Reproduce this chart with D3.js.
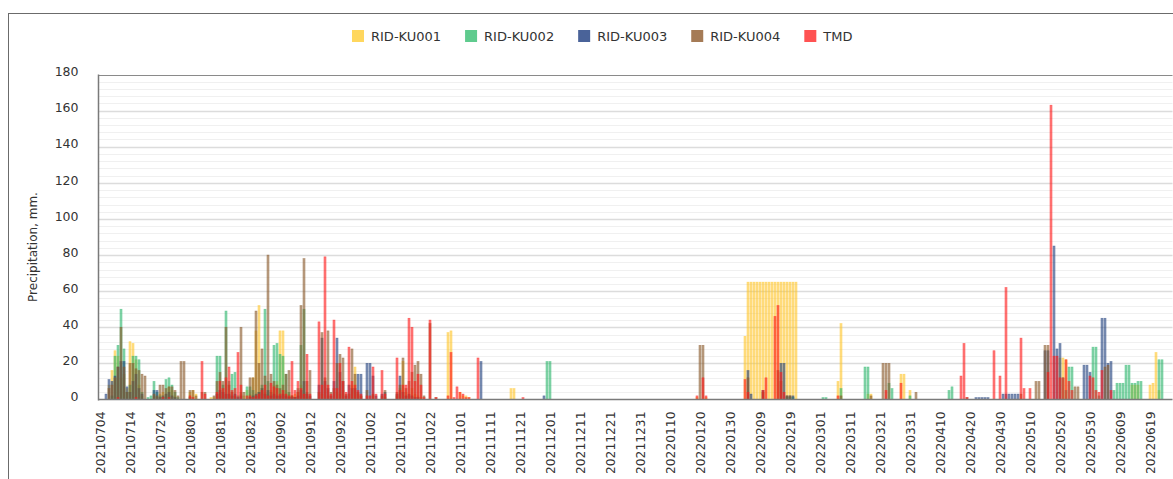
<!DOCTYPE html>
<html>
<head>
<meta charset="utf-8">
<script src="https://cdn.jsdelivr.net/npm/d3@7"></script>
<style>
  html, body { margin: 0; padding: 0; background: #fff; }
  svg { display: block; }
  text { font-family: "DejaVu Sans", Verdana, sans-serif; }
</style>
</head>
<body>
<div id="chart"></div>
<script>
// Daily precipitation (mm), 2021-07-04 .. 2022-06-26, one row per 10-day block
const startDate = "2021-07-04";
const endDate = "2022-06-26";

const seriesNames = ["RID-KU001", "RID-KU002", "RID-KU003", "RID-KU004", "TMD"];

const tickLabels = [
  "20210704","20210714","20210724","20210803","20210813","20210823","20210902",
  "20210912","20210922","20211002","20211012","20211022","20211101","20211111",
  "20211121","20211201","20211211","20211221","20211231","20220110","20220120",
  "20220130","20220209","20220219","20220301","20220311","20220321","20220331",
  "20220410","20220420","20220430","20220510","20220520","20220530","20220609",
  "20220619"
];

const ku001 = [
  0,0,0,8,16,27,24,12,14,6,
  32,31,22,8,2,0,0,0,2,1,
  3,4,3,7,5,2,0,0,0,0,
  4,5,3,0,0,0,0,1,1,2,
  3,2,0,2,0,0,0,3,2,5,
  3,12,38,52,6,4,3,5,8,10,
  38,38,5,3,2,3,4,8,3,1,
  0,0,0,0,3,0,2,0,0,4,
  3,5,0,0,8,18,3,2,0,0,
  0,2,0,0,0,1,0,0,0,2,
  6,21,4,2,6,3,2,1,0,0,
  0,0,0,0,0,0,37,38,0,0,
  4,2,2,1,0,0,0,0,0,0,
  0,0,0,0,0,0,0,6,6,0,
  0,0,0,0,0,0,0,0,0,0,
  0,0,0,0,0,0,0,0,0,0,
  0,0,0,0,0,0,0,0,0,0,
  0,0,0,0,0,0,0,0,0,0,
  0,0,0,0,0,0,0,0,0,0,
  0,0,0,0,0,0,0,0,0,1,
  0,0,1,0,0,0,0,0,0,0,
  0,0,0,0,0,35,65,65,65,65,
  65,65,65,65,65,65,65,65,65,65,
  65,65,65,0,0,0,0,0,0,0,
  0,0,0,0,0,0,10,42,0,0,
  0,0,0,0,0,0,3,3,0,0,
  0,0,0,0,0,0,0,14,14,0,
  5,0,0,0,0,0,0,0,0,0,
  0,0,0,0,0,0,0,0,0,0,
  0,0,0,0,0,0,0,0,0,0,
  0,0,0,0,0,0,0,0,0,0,
  0,0,0,0,0,0,0,0,0,0,
  23,23,22,0,0,0,0,0,0,0,
  0,0,0,0,0,0,0,0,0,0,
  0,0,0,0,8,8,8,0,0,0,
  8,9,26,5,0,0,0,0
];

const ku002 = [
  0,0,0,0,2,24,30,50,28,4,
  8,24,24,22,4,0,1,2,10,4,
  2,1,11,12,8,4,1,0,0,0,
  1,0,0,0,0,0,0,0,0,24,
  24,8,49,10,14,15,2,4,0,7,
  7,5,2,4,8,50,10,4,30,31,
  25,24,14,4,2,1,6,30,50,4,
  0,0,0,0,0,0,0,0,0,0,
  0,0,0,0,0,0,0,0,0,0,
  0,0,0,0,0,0,0,0,0,0,
  0,0,0,0,0,0,0,0,0,0,
  0,0,0,0,0,0,0,0,0,0,
  0,0,0,0,0,0,0,0,0,0,
  0,0,0,0,0,0,0,0,0,0,
  0,0,0,0,0,0,0,0,0,21,
  21,0,0,0,0,0,0,0,0,0,
  0,0,0,0,0,0,0,0,0,0,
  0,0,0,0,0,0,0,0,0,0,
  0,0,0,0,0,0,0,0,0,0,
  0,0,0,0,0,0,0,0,0,0,
  0,0,0,0,0,0,0,0,0,0,
  0,0,0,0,0,0,0,0,0,0,
  0,0,0,0,0,0,0,0,0,1,
  1,1,0,0,0,0,0,0,0,0,
  0,1,1,0,0,0,0,6,0,0,
  0,0,0,0,0,18,18,0,0,0,
  0,0,0,9,6,0,0,0,0,0,
  2,0,0,0,0,0,0,0,0,0,
  0,0,0,5,7,0,0,0,0,0,
  0,0,0,0,0,0,0,0,0,0,
  0,0,0,0,0,0,0,0,0,0,
  0,0,0,0,0,0,0,0,0,0,
  0,12,5,18,18,0,0,0,0,0,
  0,29,29,2,0,0,0,0,5,9,
  9,9,19,19,9,9,10,10,0,0,
  0,0,0,22,22,0,0,0
];

const ku003 = [
  0,0,3,11,10,13,18,21,21,7,
  4,10,14,6,3,0,0,0,5,5,
  1,2,3,4,2,1,0,0,0,0,
  0,0,0,0,0,0,0,0,0,3,
  5,4,3,3,2,3,1,2,0,0,
  1,2,3,4,6,3,5,2,3,2,
  2,3,2,1,1,1,2,5,10,3,
  2,0,0,8,34,10,6,2,10,34,
  15,10,2,8,6,6,14,14,0,20,
  20,13,2,0,3,4,0,0,0,3,
  13,4,2,3,2,1,1,0,0,0,
  0,0,0,0,0,0,0,0,0,0,
  0,0,0,0,0,0,0,21,0,0,
  0,0,0,0,0,0,0,0,0,0,
  0,0,0,0,0,0,0,0,2,0,
  0,0,0,0,0,0,0,0,0,0,
  0,0,0,0,0,0,0,0,0,0,
  0,0,0,0,0,0,0,0,0,0,
  0,0,0,0,0,0,0,0,0,0,
  0,0,0,0,0,0,0,0,0,0,
  0,0,0,0,0,0,0,0,0,0,
  0,0,0,0,0,0,16,3,0,0,
  0,5,0,0,0,0,0,20,20,2,
  2,2,0,0,0,0,0,0,0,0,
  0,0,0,0,0,0,0,0,0,0,
  0,0,0,0,0,0,0,0,0,0,
  0,0,0,0,0,0,0,0,0,0,
  0,0,0,0,0,0,0,0,0,0,
  0,0,0,0,0,0,0,0,0,0,
  0,0,1,1,1,1,1,0,0,0,
  0,3,3,3,3,3,3,0,0,0,
  0,0,0,0,0,27,27,0,85,28,
  31,0,0,0,0,0,0,0,19,19,
  15,0,0,0,45,45,20,21,0,0,
  0,0,0,0,0,0,0,0,0,0,
  0,0,0,0,0,0,0,0
];

const ku004 = [
  0,0,0,6,8,12,18,40,18,4,
  20,20,17,16,14,13,0,0,3,2,
  8,8,6,7,7,5,2,21,21,0,
  5,5,2,0,4,4,0,0,2,10,
  15,10,40,8,4,2,0,40,4,0,
  12,12,49,20,28,13,80,14,10,8,
  6,8,14,16,2,1,4,52,78,10,
  16,0,0,4,37,12,38,4,6,20,
  25,23,3,3,28,14,4,2,0,5,
  0,3,0,0,2,5,0,0,0,4,
  8,23,6,10,15,19,21,14,2,0,
  42,0,1,0,0,0,0,0,0,0,
  0,0,0,0,0,0,0,0,0,0,
  0,0,0,0,0,0,0,0,0,0,
  0,0,0,0,0,0,0,0,0,0,
  0,0,0,0,0,0,0,0,0,0,
  0,0,0,0,0,0,0,0,0,0,
  0,0,0,0,0,0,0,0,0,0,
  0,0,0,0,0,0,0,0,0,0,
  0,0,0,0,0,0,0,0,0,0,
  30,30,0,0,0,0,0,0,0,0,
  0,0,0,0,0,0,12,0,0,0,
  0,4,0,0,0,0,16,10,0,2,
  2,0,0,0,0,0,0,0,0,0,
  0,0,0,0,0,0,0,2,0,0,
  0,0,0,0,0,0,0,2,0,0,
  0,20,20,20,0,0,0,0,0,0,
  0,0,4,0,0,0,0,0,0,0,
  0,0,0,0,0,0,0,0,0,1,
  0,0,0,0,0,0,0,0,0,0,
  0,0,0,0,0,0,0,3,0,0,
  0,0,10,10,0,30,30,0,0,0,
  0,0,0,0,0,7,7,0,0,0,
  0,0,0,0,0,18,19,0,0,0,
  0,0,0,0,0,0,0,0,0,0,
  0,0,0,0,0,0,0,0
];

const tmd = [
  0,0,0,0,0,0,1,0,0,0,
  0,0,1,0,0,0,0,0,0,0,
  0,1,0,1,0,0,0,0,0,0,
  2,1,0,0,21,3,0,0,0,4,
  10,6,12,18,5,6,26,8,0,2,
  2,1,2,3,5,8,2,9,7,6,
  3,5,3,2,21,5,10,6,3,25,
  3,0,0,43,8,79,8,3,44,6,
  20,10,4,29,10,8,5,3,0,2,
  2,18,3,0,16,3,0,0,0,23,
  5,8,8,45,40,10,14,8,1,0,
  44,0,1,0,0,0,2,26,1,7,
  4,3,1,1,0,0,23,0,0,0,
  0,0,0,0,0,0,0,0,0,0,
  0,1,0,0,0,0,0,0,0,0,
  0,0,0,0,0,0,0,0,0,0,
  0,0,0,0,0,0,0,0,0,0,
  0,0,0,0,0,0,0,0,0,0,
  0,0,0,0,0,0,0,0,0,0,
  0,0,0,0,0,0,0,0,0,2,
  0,12,2,0,0,0,0,0,0,0,
  0,0,0,0,0,11,4,0,0,0,
  0,5,12,0,0,46,52,15,4,0,
  0,0,0,0,0,0,0,0,0,0,
  0,0,0,0,0,0,2,0,0,0,
  0,0,0,0,0,0,0,0,0,0,
  0,0,5,0,0,0,0,9,0,0,
  0,0,0,0,0,0,0,0,0,0,
  0,0,0,0,0,0,0,13,31,1,
  0,0,0,0,0,0,0,0,27,0,
  13,0,62,0,0,0,0,34,6,0,
  6,0,0,0,0,0,15,163,24,24,
  12,12,22,10,5,0,0,0,0,0,
  13,12,5,4,16,0,0,5,0,0,
  0,0,0,0,0,0,0,0,0,0,
  0,0,0,0,0,0,0,0
];

const seriesValues = [ku001, ku002, ku003, ku004, tmd];
const seriesColors = ["#FFC72C", "#2EB86E", "#23427F", "#8B5A2B", "#FF1A1A"];
const legendColors = ["#FFD75E", "#5FCB8E", "#4A6399", "#A57B56", "#FF5252"];

const W = 1173, H = 479;
const fmt = d3.timeFormat("%Y%m%d");
const parse = d3.timeParse("%Y-%m-%d");
const days = d3.timeDay.range(parse(startDate), d3.timeDay.offset(parse(endDate), 1)).map(fmt);

const plot = { left: 98.5, top: 74.5, bottom: 399.5, step: 3 };

const svg = d3.select("#chart").append("svg")
  .attr("width", W).attr("height", H);

// outer chart frame (extends past the right / bottom edge of the view)
svg.append("rect")
  .attr("x", 8.5).attr("y", 13.5)
  .attr("width", W + 20).attr("height", H + 20)
  .attr("fill", "none").attr("stroke", "#6b6b6b").attr("stroke-width", 1);

const x = d3.scaleBand()
  .domain(days)
  .range([plot.left, plot.left + days.length * plot.step])
  .paddingInner(0.32).paddingOuter(0.16);

const y = d3.scaleLinear().domain([0, 180]).range([plot.bottom, plot.top]);
const plotRight = plot.left + days.length * plot.step;

// minor and major gridlines
const minorTicks = d3.range(0, 181, 4).filter(v => v % 20 !== 0);
svg.append("g").selectAll("line").data(minorTicks).join("line")
  .attr("x1", plot.left).attr("x2", plotRight)
  .attr("y1", d => Math.round(y(d)) + 0.5).attr("y2", d => Math.round(y(d)) + 0.5)
  .attr("stroke", "#f0f0f0").attr("stroke-width", 1);

const majorTicks = d3.range(20, 181, 20);
svg.append("g").selectAll("line").data(majorTicks).join("line")
  .attr("x1", plot.left).attr("x2", plotRight)
  .attr("y1", d => Math.round(y(d)) + 0.5).attr("y2", d => Math.round(y(d)) + 0.5)
  .attr("stroke", d => d === 180 ? "#8a8a8a" : "#dcdcdc").attr("stroke-width", d => d === 180 ? 1.2 : 1.3);

// bars: all stations share a day slot and overlap
const barsG = svg.append("g");
seriesValues.forEach((vals, s) => {
  barsG.append("g")
    .selectAll("rect")
    .data(days.map((d, i) => ({ day: d, v: vals[i] || 0 })).filter(d => d.v > 0))
    .join("rect")
    .attr("x", d => x(d.day))
    .attr("width", x.bandwidth())
    .attr("y", d => y(d.v))
    .attr("height", d => y(0) - y(d.v))
    .attr("fill", seriesColors[s])
    .attr("fill-opacity", 0.55)
    .attr("stroke", seriesColors[s])
    .attr("stroke-opacity", 0.6)
    .attr("stroke-width", 0.6);
});

// y axis
const yAxis = d3.axisLeft(y).tickValues(d3.range(0, 181, 20)).tickSize(0).tickPadding(20);
const yg = svg.append("g").attr("transform", `translate(${plot.left},0)`).call(yAxis);
yg.select(".domain").remove();
yg.selectAll("text").attr("font-size", 12.5).attr("fill", "#333").attr("dy", "0.1em")
  .style("font-family", "'DejaVu Sans', sans-serif");

// axis lines
svg.append("line")
  .attr("x1", plot.left).attr("x2", plot.left)
  .attr("y1", plot.top).attr("y2", plot.bottom + 1)
  .attr("stroke", "#7a7a7a").attr("stroke-width", 1.5);
svg.append("line")
  .attr("x1", plot.left).attr("x2", plotRight)
  .attr("y1", plot.bottom).attr("y2", plot.bottom)
  .attr("stroke", "#7a7a7a").attr("stroke-width", 1.5);

// x tick labels every ten days
const xg = svg.append("g");
xg.selectAll("text").data(tickLabels).join("text")
  .attr("transform", d => `translate(${x(d) + x.bandwidth() / 2 + 4.5},${plot.bottom + 12}) rotate(-90)`)
  .attr("text-anchor", "end")
  .attr("font-size", 12.3)
  .attr("fill", "#333")
  .text(d => d);

// y axis title
svg.append("text")
  .attr("transform", `translate(37,${(plot.top + plot.bottom) / 2 + 10}) rotate(-90)`)
  .attr("text-anchor", "middle")
  .attr("font-size", 12)
  .attr("fill", "#333")
  .text("Precipitation,  mm.");

// legend
const legend = svg.append("g").attr("transform", "translate(352,30)");
let lx = 0;
seriesNames.forEach((name, s) => {
  const item = legend.append("g").attr("transform", `translate(${lx},0)`);
  item.append("rect").attr("width", 12).attr("height", 12)
    .attr("fill", legendColors[s]);
  const t = item.append("text").attr("x", 19).attr("y", 11)
    .attr("font-size", 13).attr("fill", "#333").text(name);
  lx += 19 + t.node().getComputedTextLength() + 24;
});
</script>
</body>
</html>
